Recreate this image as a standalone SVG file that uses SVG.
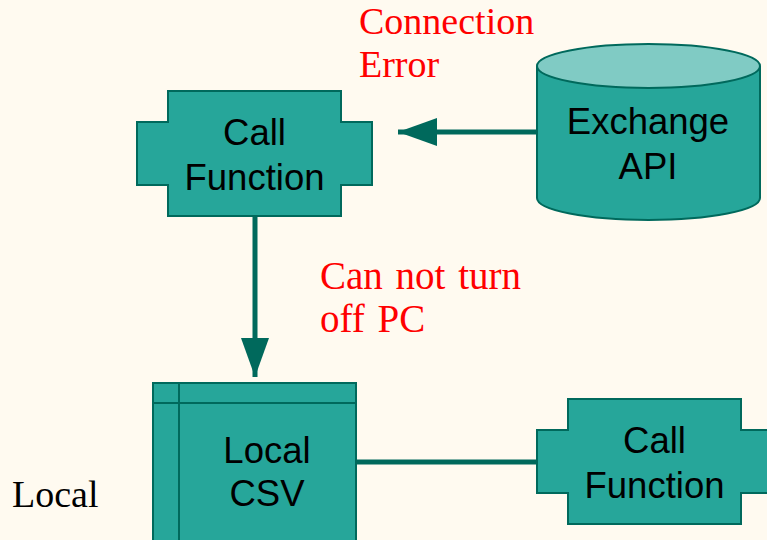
<svg xmlns="http://www.w3.org/2000/svg" width="767" height="540" viewBox="0 0 767 540">
  <style>
    .shape { fill: #26A69A; stroke: #00695C; stroke-width: 2; }
    .cap { fill: #80CBC4; stroke: #00695C; stroke-width: 2; }
    .label { font-family: "Liberation Sans", Arial, sans-serif; font-size: 36.5px; fill: #000; text-anchor: middle; }
    .note { font-family: "Liberation Serif", "Times New Roman", serif; font-size: 39px; fill: #FF0000; word-spacing: 3px; }
    .note.top { font-size: 38px; }
    .plain { font-family: "Liberation Serif", "Times New Roman", serif; font-size: 38px; fill: #000; }
    .edge { stroke: #00695C; stroke-width: 5; fill: none; }
  </style>
  <defs>
    <marker id="arrow" markerUnits="userSpaceOnUse" markerWidth="40" markerHeight="30" refX="39" refY="14" orient="auto">
      <path d="M0,0 L39,14 L0,28 Z" fill="#00695C"/>
    </marker>
  </defs>

  <rect x="0" y="0" width="767" height="540" fill="#FFFAF0"/>

  <!-- connectors -->
  <g id="connectors">
    <line class="edge" x1="537" y1="132" x2="398" y2="132" marker-end="url(#arrow)"/>
    <line class="edge" x1="255" y1="216" x2="255" y2="377" marker-end="url(#arrow)"/>
    <line class="edge" x1="356" y1="462" x2="537" y2="462"/>
  </g>

  <!-- Call Function (top) -->
  <g id="call-function-top">
    <path class="shape" d="M168,91 H341 V122 H372 V185 H341 V216 H168 V185 H137 V122 H168 Z"/>
    <text class="label" x="254.5" y="145">Call</text>
    <text class="label" x="254.5" y="190">Function</text>
  </g>

  <!-- Exchange API -->
  <g id="exchange-api">
    <path class="shape" d="M537,66 V198 A111.5,22 0 0 0 760,198 V66"/>
    <ellipse class="cap" cx="648.5" cy="66" rx="111.5" ry="22"/>
    <text class="label" x="648" y="134">Exchange</text>
    <text class="label" x="648" y="179">API</text>
  </g>

  <!-- Local CSV -->
  <g id="local-csv">
    <rect class="shape" x="153" y="383" width="203" height="180"/>
    <line class="shape" x1="153" y1="403" x2="356" y2="403"/>
    <line class="shape" x1="179" y1="383" x2="179" y2="563"/>
    <text class="label" x="267" y="463">Local</text>
    <text class="label" x="267" y="506">CSV</text>
  </g>

  <!-- Call Function (bottom) -->
  <g id="call-function-bottom">
    <path class="shape" d="M568,399 H741 V430 H772 V493 H741 V524 H568 V493 H537 V430 H568 Z"/>
    <text class="label" x="654.5" y="453">Call</text>
    <text class="label" x="654.5" y="498">Function</text>
  </g>

  <!-- annotations -->
  <g id="notes">
    <text class="note top" x="359" y="34">Connection</text>
    <text class="note top" x="359" y="77">Error</text>
    <text class="note" x="320" y="289">Can not turn</text>
    <text class="note" x="320" y="332">off PC</text>
    <text class="plain" x="12" y="507">Local</text>
  </g>
</svg>
